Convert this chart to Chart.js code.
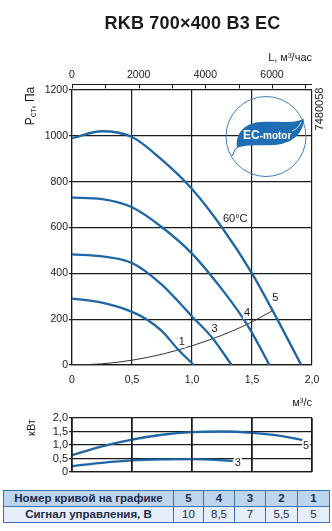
<!DOCTYPE html>
<html>
<head>
<meta charset="utf-8">
<script src="https://cdn.jsdelivr.net/npm/chart.js@4.4.1/dist/chart.umd.min.js"></script>
<style>
  body { margin: 0; background: #fff; width: 332px; height: 531px; position: relative; overflow: hidden; font-family: "Liberation Sans", Arial, sans-serif; }
  #title { position: absolute; left: 0; top: 14px; width: 385px; text-align: center; font-size: 18px; line-height: 18px; font-weight: bold; color: #1a1a1a; letter-spacing: 0.2px; }
  #c1 { position: absolute; left: 0; top: 0; }
  #c2 { position: absolute; left: 0; top: 410px; }
  #tbl { position: absolute; left: 3px; top: 490px; border-collapse: collapse; font-size: 11.5px; color: #1b2b4b; }
  #tbl td { border: 1px solid #3a73b4; height: 15px; padding: 0; text-align: center; line-height: 15px; }
  #tbl tr.r1 td { background: #bed5ee; font-weight: bold; }
  #tbl tr.r2 td { background: #e5eef9; }
  #tbl tr.r2 td:first-child { font-weight: bold; }
</style>
</head>
<body>
<canvas id="c1" width="332" height="410"></canvas>
<canvas id="c2" width="332" height="72"></canvas>
<div id="title">RKB 700×400 B3 EC</div>
<table id="tbl">
  <colgroup><col style="width:170px"><col style="width:30px"><col style="width:31px"><col style="width:31px"><col style="width:32px"><col style="width:32px"></colgroup>
  <tr class="r1"><td>Номер кривой на графике</td></tr>
  <tr class="r2"><td>Сигнал управления, В</td></tr>
</table>
<script>
// кривые вентилятора: расход м3/с -> давление Па
const q1 = [0, 0.25, 0.5, 0.62, 0.75, 0.88, 1.015];
const p1 = [290, 272, 232, 200, 148, 70, 0];
const q3 = [0, 0.25, 0.5, 0.75, 1.0, 1.17, 1.33];
const p3 = [483, 474, 445, 350, 212, 118, 0];
const q4 = [0, 0.25, 0.5, 0.75, 1.0, 1.25, 1.43, 1.5, 1.646];
const p4 = [730, 724, 688, 601, 486, 330, 200, 140, 0];
const q5 = [0, 0.25, 0.5, 0.75, 1.0, 1.25, 1.5, 1.71, 1.91];
const p5 = [990, 1020, 995, 895, 768, 600, 400, 200, 0];

// характеристика сети
const qNet = [0, 0.25, 0.5, 0.75, 1.0, 1.25, 1.5, 1.68];
const pNet = [0, 5, 21, 47, 84, 130, 188, 240];

// мощность, кВт
const qPow5 = [0, 0.25, 0.5, 0.75, 1.0, 1.25, 1.5, 1.75, 1.92];
const nPow5 = [0.62, 0.95, 1.2, 1.38, 1.48, 1.5, 1.45, 1.33, 1.18];
const qPow3 = [0, 0.25, 0.5, 0.75, 1.0, 1.2, 1.34];
const nPow3 = [0.22, 0.34, 0.43, 0.47, 0.48, 0.45, 0.40];

// подписи осей
const qTicks = [0, 0.5, 1, 1.5, 2];
const qTickLabels = ['0', '0,5', '1,0', '1,5', '2,0'];
const lTicks = [0, 1000, 2000, 3000, 4000, 5000, 6000, 7000];
const lTickLabels = ['0', '', '2000', '', '4000', '', '6000', ''];
const pTicks = [0, 200, 400, 600, 800, 1000, 1200];
const nTicks = [0, 0.5, 1, 1.5, 2];
const nTickLabels = ['0', '0,5', '1,0', '1,5', '2,0'];

// номера кривых на графике
const curveNames = ['1', '3', '4', '5'];
const curveLabelQ = [0.916, 1.187, 1.458, 1.695];
const curveLabelP = [100, 156, 225, 291];
const powNames = ['5', '3'];
const powLabelQ = [1.95, 1.382];
const powLabelN = [0.96, 0.35];

// таблица
const curveNumbers = ['5', '4', '3', '2', '1'];
const signalVolts = ['10', '8,5', '7', '5,5', '5'];

const FONT = '"Liberation Sans", Arial, sans-serif';
const BLUE = '#1f66a6';
const INK = '#1a1a1a';

function pts(xs, ys) {
  return xs.map((x, i) => ({ x: x, y: ys[i] }));
}

function curve(xs, ys, color, width) {
  return {
    data: pts(xs, ys),
    showLine: true,
    borderColor: color,
    borderWidth: width,
    pointRadius: 0,
    cubicInterpolationMode: 'monotone',
    fill: false
  };
}

function tagText(ctx, text, x, y, size) {
  ctx.font = size + 'px ' + FONT;
  const w = ctx.measureText(text).width;
  ctx.fillStyle = '#fff';
  ctx.fillRect(x - w / 2 - 1, y - size / 2, w + 2, size);
  ctx.fillStyle = INK;
  ctx.textAlign = 'center';
  ctx.textBaseline = 'middle';
  ctx.fillText(text, x, y);
}

function drawLogo(ctx) {
  ctx.save();
  ctx.beginPath();
  ctx.arc(266, 136.5, 40, 0, Math.PI * 2);
  ctx.strokeStyle = '#3d7dbd';
  ctx.lineWidth = 1;
  ctx.stroke();

  // лист
  ctx.beginPath();
  ctx.moveTo(237, 148);
  ctx.bezierCurveTo(235, 132, 246, 123, 260, 122);
  ctx.bezierCurveTo(276, 121, 292, 124, 304, 119);
  ctx.bezierCurveTo(303, 133, 294, 143, 275, 145);
  ctx.bezierCurveTo(260, 146, 247, 144, 237, 148);
  ctx.closePath();
  ctx.fillStyle = '#1f6db4';
  ctx.fill();

  ctx.beginPath();
  ctx.moveTo(240, 144);
  ctx.quadraticCurveTo(234, 150, 232, 156);
  ctx.strokeStyle = '#1f6db4';
  ctx.lineWidth = 1;
  ctx.stroke();

  ctx.beginPath();
  ctx.moveTo(292, 131);
  ctx.quadraticCurveTo(299, 128, 301, 122);
  ctx.strokeStyle = '#fff';
  ctx.lineWidth = 0.8;
  ctx.stroke();

  ctx.fillStyle = '#fff';
  ctx.textAlign = 'left';
  ctx.textBaseline = 'alphabetic';
  ctx.font = 'bold 12px ' + FONT;
  ctx.fillText('EC', 243, 139);
  const w = ctx.measureText('EC').width;
  ctx.font = 'bold 10px ' + FONT;
  ctx.fillText('-motor', 243 + w, 139);
  ctx.restore();
}

const mainDecor = {
  id: 'mainDecor',
  afterDraw(chart) {
    const ctx = chart.ctx;
    const a = chart.chartArea;
    const sx = chart.scales.x;
    const sy = chart.scales.y;
    const sl = chart.scales.x2;
    ctx.save();

    // верхняя шкала L
    ctx.strokeStyle = INK;
    ctx.lineWidth = 1;
    const ry = a.top - 5.5;
    ctx.beginPath();
    ctx.moveTo(sl.getPixelForValue(0), ry);
    ctx.lineTo(sl.getPixelForValue(7200), ry);
    lTicks.forEach(v => {
      const x = Math.round(sl.getPixelForValue(v)) + 0.5;
      ctx.moveTo(x, ry);
      ctx.lineTo(x, ry + 4);
    });
    ctx.stroke();

    ctx.fillStyle = INK;
    ctx.textAlign = 'right';
    ctx.textBaseline = 'alphabetic';
    ctx.font = '11px ' + FONT;
    ctx.fillText('L, м³/час', 312, 61);
    ctx.fillText('м³/с', 312, 406);

    // подпись оси давления
    ctx.save();
    ctx.translate(31, 106);
    ctx.rotate(-Math.PI / 2);
    ctx.textAlign = 'left';
    ctx.textBaseline = 'middle';
    ctx.font = '12px ' + FONT;
    const w1 = ctx.measureText('Р').width;
    const w3 = ctx.measureText(', Па').width;
    ctx.font = '9px ' + FONT;
    const w2 = ctx.measureText('ст').width;
    let x0 = -(w1 + w2 + w3) / 2;
    ctx.font = '12px ' + FONT;
    ctx.fillText('Р', x0, 0);
    ctx.font = '9px ' + FONT;
    ctx.fillText('ст', x0 + w1, 2.5);
    ctx.font = '12px ' + FONT;
    ctx.fillText(', Па', x0 + w1 + w2, 0);
    ctx.restore();

    // артикул
    ctx.save();
    ctx.translate(320, 109);
    ctx.rotate(-Math.PI / 2);
    ctx.textAlign = 'center';
    ctx.textBaseline = 'middle';
    ctx.font = '11px ' + FONT;
    ctx.fillText('7480058', 0, 0);
    ctx.restore();

    curveNames.forEach((t, i) => {
      tagText(ctx, t, sx.getPixelForValue(curveLabelQ[i]), sy.getPixelForValue(curveLabelP[i]), 11);
    });
    tagText(ctx, '60°C', sx.getPixelForValue(1.36), sy.getPixelForValue(638), 11);

    drawLogo(ctx);
    ctx.restore();
  }
};

const powDecor = {
  id: 'powDecor',
  afterDraw(chart) {
    const ctx = chart.ctx;
    const sx = chart.scales.x;
    const sy = chart.scales.y;
    const top = sy.getPixelForValue(2);
    const bottom = sy.getPixelForValue(0);
    ctx.save();

    // вертикальная сетка по шкале расхода
    ctx.fillStyle = INK;
    qTicks.forEach(v => {
      const x = Math.round(sx.getPixelForValue(v));
      ctx.fillRect(x - 0.6, top, 1.3, bottom - top);
    });

    ctx.translate(32, 17.5);
    ctx.rotate(-Math.PI / 2);
    ctx.textAlign = 'center';
    ctx.textBaseline = 'middle';
    ctx.font = '11px ' + FONT;
    ctx.fillText('кВт', 0, 0);
    ctx.restore();
    powNames.forEach((t, i) => {
      tagText(ctx, t, sx.getPixelForValue(powLabelQ[i]), sy.getPixelForValue(powLabelN[i]), 11);
    });
  }
};

const gridStyle = { color: INK, lineWidth: 1.2 };

new Chart(document.getElementById('c1'), {
  type: 'scatter',
  data: {
    datasets: [
      curve(q1, p1, BLUE, 2.3),
      curve(q3, p3, BLUE, 2.3),
      curve(q4, p4, BLUE, 2.3),
      curve(q5, p5, BLUE, 2.3),
      curve(qNet, pNet, '#333', 1)
    ]
  },
  options: {
    responsive: false,
    animation: false,
    layout: { padding: { left: 0, right: 20, top: 0, bottom: 0 } },
    plugins: { legend: { display: false }, tooltip: { enabled: false } },
    scales: {
      x: {
        type: 'linear', position: 'bottom', min: 0, max: 2,
        afterBuildTicks: s => { s.ticks = qTicks.map(v => ({ value: v })); },
        afterFit: s => { s.height = 45; },
        grid: { ...gridStyle, drawTicks: false },
        border: { color: INK, width: 1.2 },
        ticks: { padding: 9, color: INK, maxRotation: 0, autoSkip: false, font: { family: FONT, size: 10.5 }, callback: (v, i) => qTickLabels[i] }
      },
      x2: {
        type: 'linear', position: 'top', min: 0, max: 7200,
        afterBuildTicks: s => { s.ticks = lTicks.map(v => ({ value: v })); },
        afterFit: s => { s.height = 90; },
        grid: { drawOnChartArea: false, drawTicks: false },
        border: { display: false },
        ticks: { padding: 9, color: INK, maxRotation: 0, autoSkip: false, font: { family: FONT, size: 10.5 }, callback: (v, i) => lTickLabels[i] }
      },
      y: {
        type: 'linear', min: 0, max: 1200,
        afterBuildTicks: s => { s.ticks = pTicks.map(v => ({ value: v })); },
        afterFit: s => { s.width = 72; },
        grid: { ...gridStyle, tickLength: 3 },
        border: { color: INK, width: 1.2 },
        ticks: { padding: 1, color: INK, autoSkip: false, font: { family: FONT, size: 10.5 }, callback: v => String(v) }
      }
    }
  },
  plugins: [mainDecor]
});

new Chart(document.getElementById('c2'), {
  type: 'scatter',
  data: {
    datasets: [
      curve(qPow5, nPow5, BLUE, 2.3),
      curve(qPow3, nPow3, BLUE, 2.3)
    ]
  },
  options: {
    responsive: false,
    animation: false,
    layout: { padding: { left: 0, right: 20, top: 8, bottom: 10 } },
    plugins: { legend: { display: false }, tooltip: { enabled: false } },
    scales: {
      x: {
        type: 'linear', position: 'bottom', min: 0, max: 2,
        afterBuildTicks: s => { s.ticks = qTicks.map(v => ({ value: v })); },
        grid: { ...gridStyle, drawTicks: false },
        border: { color: INK, width: 1.2 },
        ticks: { display: false }
      },
      y: {
        type: 'linear', min: 0, max: 2,
        afterBuildTicks: s => { s.ticks = nTicks.map(v => ({ value: v })); },
        afterFit: s => { s.width = 72; },
        grid: { ...gridStyle, tickLength: 3 },
        border: { color: INK, width: 1.2 },
        ticks: { padding: 1, color: INK, autoSkip: false, font: { family: FONT, size: 11 }, callback: (v, i) => nTickLabels[i] }
      }
    }
  },
  plugins: [powDecor]
});

// заполняем таблицу
const rows = document.querySelectorAll('#tbl tr');
curveNumbers.forEach(n => {
  const td = document.createElement('td');
  td.textContent = n;
  rows[0].appendChild(td);
});
signalVolts.forEach(v => {
  const td = document.createElement('td');
  td.textContent = v;
  rows[1].appendChild(td);
});
</script>
</body>
</html>
